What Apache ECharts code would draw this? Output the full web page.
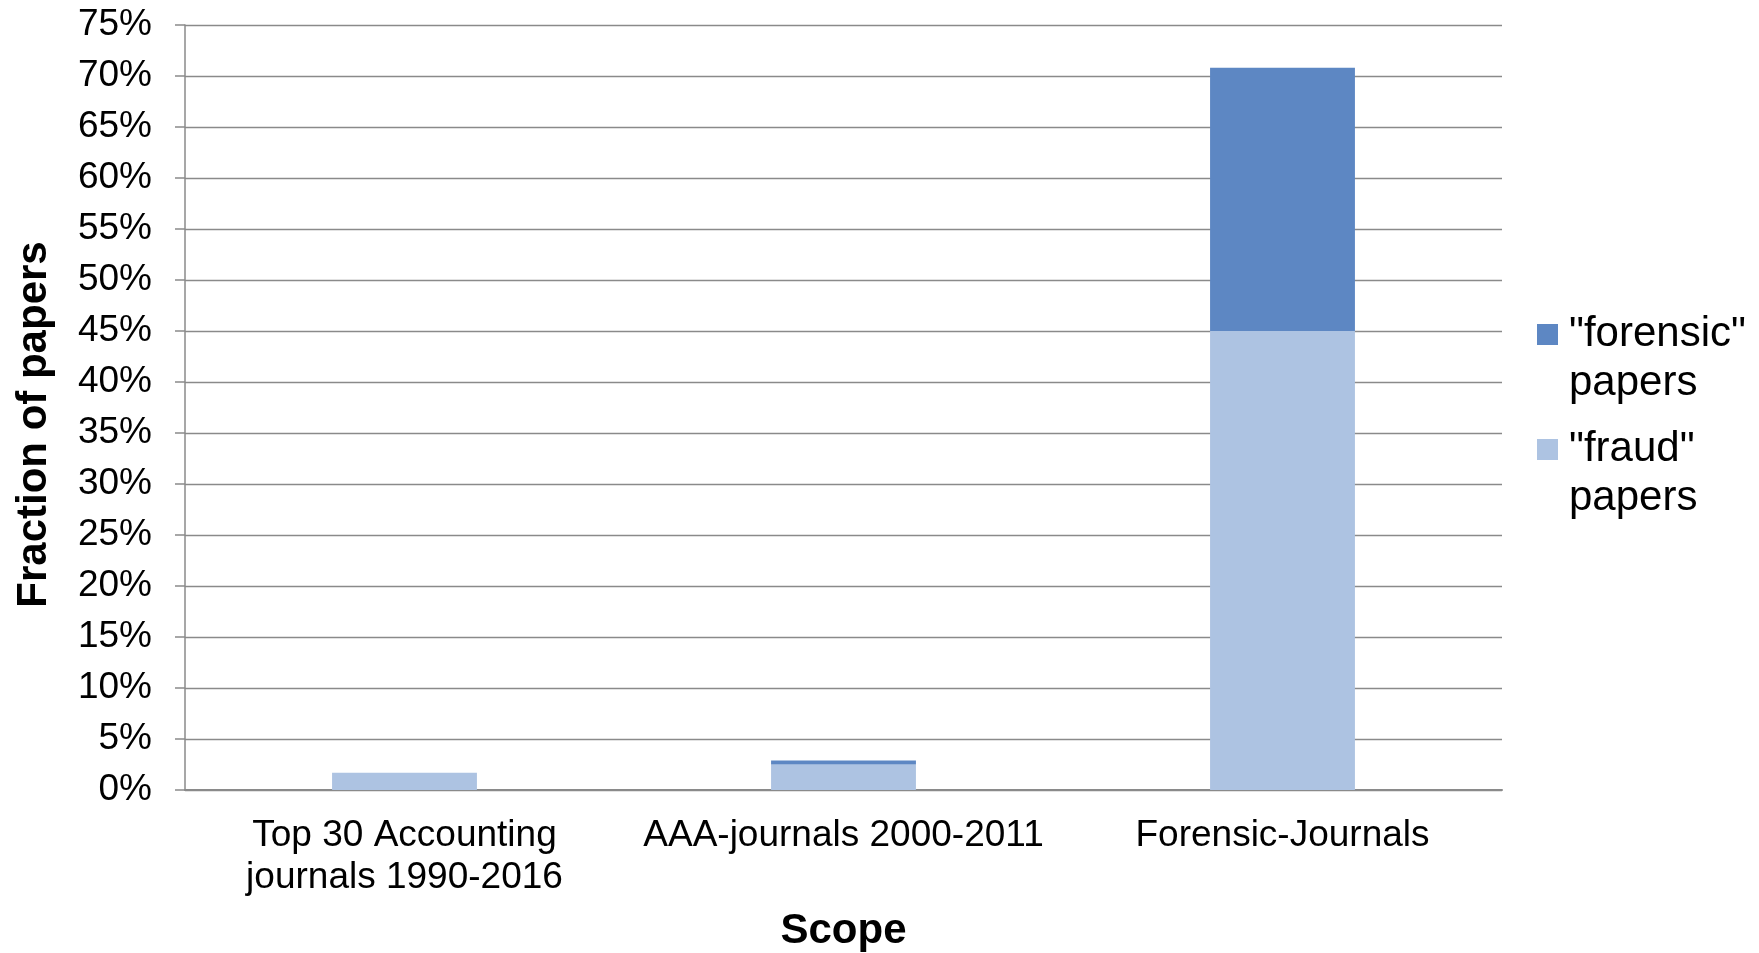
<!DOCTYPE html>
<html>
<head>
<meta charset="utf-8">
<title>Fraction of papers by scope</title>
<script src="https://cdn.jsdelivr.net/npm/echarts@6/dist/echarts.min.js"></script>
<style>
  html, body { margin: 0; padding: 0; background: #ffffff; }
  #chart { width: 1759px; height: 953px; }
</style>
</head>
<body>
<div id="chart"></div>
<script>
// Scopes on the x axis
const categories = [
  'Top 30 Accounting\njournals 1990-2016',
  'AAA-journals 2000-2011',
  'Forensic-Journals'
];
// Share of papers (%) per scope, stacked: "fraud" at the bottom, "forensic" on top
const fraudPapers = [1.7, 2.5, 45.0];
const forensicPapers = [0, 0.4, 25.8];
const seriesNames = ['"fraud" papers', '"forensic" papers'];
const yTicks = { min: 0, max: 75, interval: 5 };

const FONT = '"Liberation Sans", Arial, sans-serif';
const LEGEND_LINE = 49;
const chart = echarts.init(document.getElementById('chart'), null, { renderer: 'canvas' });

chart.setOption({
  animation: false,
  backgroundColor: '#ffffff',
  textStyle: { fontFamily: FONT, color: '#000000' },
  grid: {
    left: 185, right: 257, top: 25, bottom: 163,
    containLabel: false,
    outerBoundsMode: 'none'
  },
  legend: {
    data: [seriesNames[1], seriesNames[0]],
    orient: 'vertical',
    left: 1537,
    top: 261,
    padding: 0,
    itemWidth: 21,
    itemHeight: 21,
    itemGap: 115 - 3 * LEGEND_LINE,
    icon: 'rect',
    // an empty leading line keeps the square level with the first text line
    formatter: name => '\n' + name.split(' ').map(s => '{t|' + s + '}').join('\n'),
    textStyle: {
      fontFamily: FONT,
      fontSize: 42,
      color: '#000000',
      lineHeight: LEGEND_LINE,
      rich: {
        t: {
          fontFamily: FONT,
          fontSize: 42,
          color: '#000000',
          lineHeight: LEGEND_LINE,
          padding: [0, 0, 0, 6]
        }
      }
    }
  },
  xAxis: {
    type: 'category',
    data: categories,
    name: 'Scope',
    nameLocation: 'middle',
    nameGap: 120,
    nameTextStyle: { fontFamily: FONT, fontSize: 42, fontWeight: 'bold', color: '#000000' },
    axisLine: { lineStyle: { color: '#8a8a8a', width: 2 } },
    axisTick: { show: false },
    axisLabel: {
      fontFamily: FONT, fontSize: 37, color: '#000000',
      lineHeight: 42, margin: 25, interval: 0
    },
    splitLine: { show: false }
  },
  yAxis: {
    type: 'value',
    min: yTicks.min,
    max: yTicks.max,
    interval: yTicks.interval,
    name: 'Fraction of papers',
    nameLocation: 'middle',
    nameGap: 130,
    nameRotate: 90,
    nameTextStyle: {
      fontFamily: FONT, fontSize: 42, fontWeight: 'bold', color: '#000000',
      padding: [0, 34, 0, 0]
    },
    axisLine: { show: true, lineStyle: { color: '#8a8a8a', width: 1.5 } },
    axisTick: { show: true, length: 10, lineStyle: { color: '#8a8a8a', width: 1.5 } },
    axisLabel: {
      fontFamily: FONT, fontSize: 37, color: '#000000', margin: 33,
      formatter: '{value}%'
    },
    splitLine: { show: true, lineStyle: { color: '#8a8a8a', width: 1.4 } }
  },
  series: [
    {
      name: seriesNames[0],
      type: 'bar',
      stack: 'papers',
      data: fraudPapers,
      barWidth: '33%',
      itemStyle: { color: '#adc3e2' }
    },
    {
      name: seriesNames[1],
      type: 'bar',
      stack: 'papers',
      data: forensicPapers,
      barWidth: '33%',
      itemStyle: { color: '#5d87c3' }
    }
  ]
});
</script>
</body>
</html>
